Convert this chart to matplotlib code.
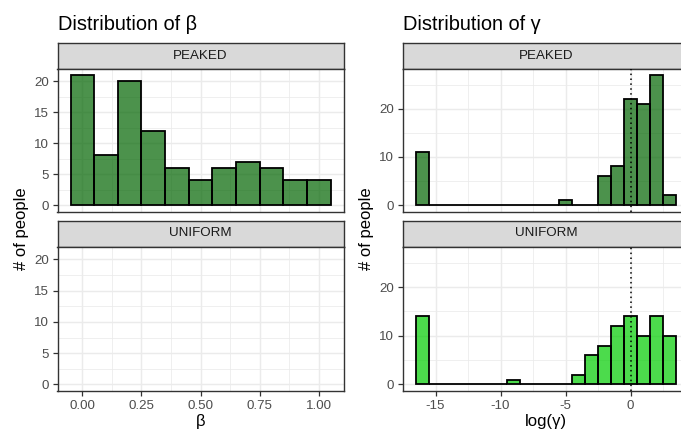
import matplotlib
matplotlib.use("Agg")
import matplotlib.pyplot as plt
from matplotlib.ticker import MultipleLocator

plt.rcParams['font.family'] = ['Liberation Sans', 'DejaVu Sans']

# ---------------- data ----------------
facets = ["PEAKED", "UNIFORM"]
beta_bins = [0.0, 0.1, 0.2, 0.3, 0.4, 0.5, 0.6, 0.7, 0.8, 0.9, 1.0]
beta_peaked = [21, 8, 20, 12, 6, 4, 6, 7, 6, 4, 4]
beta_uniform = []  # no data in the UNIFORM facet

gamma_bins = [-16, -15, -14, -13, -12, -11, -10, -9, -8, -7, -6, -5, -4, -3, -2, -1, 0, 1, 2, 3]
gamma_peaked = [11, 0, 0, 0, 0, 0, 0, 0, 0, 0, 0, 1, 0, 0, 6, 8, 22, 21, 27, 2]
gamma_uniform = [14, 0, 0, 0, 0, 0, 0, 1, 0, 0, 0, 0, 2, 6, 8, 12, 14, 10, 14, 10]

beta_xticks = [0.0, 0.25, 0.5, 0.75, 1.0]
beta_xticklabels = ["0.00", "0.25", "0.50", "0.75", "1.00"]
beta_yticks = [0, 5, 10, 15, 20]
gamma_xticks = [-15, -10, -5, 0]
gamma_yticks = [0, 10, 20]

titles = ["Distribution of \u03b2", "Distribution of \u03b3"]
xlabels = ["\u03b2", "log(\u03b3)"]
ylabel = "# of people"

col_peaked = "#006400"
col_uniform = "#00CD00"
bar_alpha = 0.7

# ---------------- layout ----------------
W, H = 681, 433
fig = plt.figure(figsize=(W / 100, H / 100), dpi=100)

def fx(px):
    return px / W

def fy(py):
    return 1 - py / H

GRID = "#EBEBEB"
BORDER = "#333333"
TICKC = "#4D4D4D"
FS_TICK = 9.6
FS_STRIP = 9.6
FS_AXT = 12
FS_TITLE = 14.4

def make_panel(left_px, right_px, top_px, bottom_px, strip_top_px, label):
    s = fig.add_axes([fx(left_px), fy(top_px), fx(right_px - left_px), (top_px - strip_top_px) / H])
    s.set_facecolor("#D9D9D9")
    s.set_xticks([]); s.set_yticks([])
    for sp in s.spines.values():
        sp.set_color(BORDER); sp.set_linewidth(1.0)
    s.text(0.5, 0.5, label, transform=s.transAxes, ha="center", va="center",
           fontsize=FS_STRIP, color="#1A1A1A")
    ax = fig.add_axes([fx(left_px), fy(bottom_px), fx(right_px - left_px), (bottom_px - top_px) / H])
    ax.set_facecolor("white")
    for sp in ax.spines.values():
        sp.set_color(BORDER); sp.set_linewidth(1.0)
    ax.set_axisbelow(True)
    ax.tick_params(axis="both", which="major", length=3.8, width=0.9, color=BORDER,
                   labelsize=FS_TICK, labelcolor=TICKC, pad=2.5)
    ax.tick_params(axis="both", which="minor", length=0)
    ax.grid(True, which="major", color=GRID, linewidth=1.07)
    ax.grid(True, which="minor", color=GRID, linewidth=0.55)
    return ax

L0, L1 = 57.5, 343.5
R0, R1 = 403.0, 689.0
T_strip, T_top, T_bot = 43.0, 68.5, 211.5
B_strip, B_top, B_bot = 220.5, 246.5, 391.0

cols = [
    (L0, L1, beta_bins, [beta_peaked, beta_uniform], 0.1, (-0.105, 1.105), (-1.05, 22.05),
     beta_xticks, beta_xticklabels, beta_yticks, 0.125, 2.5),
    (R0, R1, gamma_bins, [gamma_peaked, gamma_uniform], 1.0, (-17.5, 4.5), (-1.35, 28.35),
     gamma_xticks, [str(t) for t in gamma_xticks], gamma_yticks, 2.5, 5),
]

for ci, (x0, x1, bins, series, bw, xlim, ylim, xt, xtl, yt, xminor, yminor) in enumerate(cols):
    for ri, (st, tp, bt) in enumerate([(T_strip, T_top, T_bot), (B_strip, B_top, B_bot)]):
        ax = make_panel(x0, x1, tp, bt, st, facets[ri])
        vals = series[ri]
        color = col_peaked if ri == 0 else col_uniform
        if len(vals):
            ax.bar(bins, vals, width=bw, color=color, alpha=bar_alpha, edgecolor="none", zorder=2)
            ax.bar(bins, vals, width=bw, facecolor="none", edgecolor="black", linewidth=1.3, zorder=3)
        ax.set_xlim(*xlim)
        ax.set_ylim(*ylim)
        ax.set_xticks(xt)
        ax.xaxis.set_minor_locator(MultipleLocator(xminor))
        ax.yaxis.set_minor_locator(MultipleLocator(yminor))
        ax.set_yticks(yt)
        ax.set_yticklabels([str(v) for v in yt])
        if ci == 1:
            ax.axvline(0, color="black", linestyle=(0, (1, 2.2)), linewidth=1.1, zorder=4)
        if ri == 0:
            ax.tick_params(axis="x", which="major", labelbottom=False, length=0)
        else:
            ax.set_xticklabels(xtl)
            ax.set_xlabel(xlabels[ci], fontsize=FS_AXT, color="black", labelpad=1.5)
    fig.text(fx(x0), fy(30), titles[ci], fontsize=FS_TITLE, ha="left", va="baseline", color="black")
    fig.text(fx(22 if ci == 0 else 367), fy(229), ylabel, rotation=90, fontsize=FS_AXT,
             ha="center", va="center", color="black")

fig.savefig("out.png", dpi=100)
